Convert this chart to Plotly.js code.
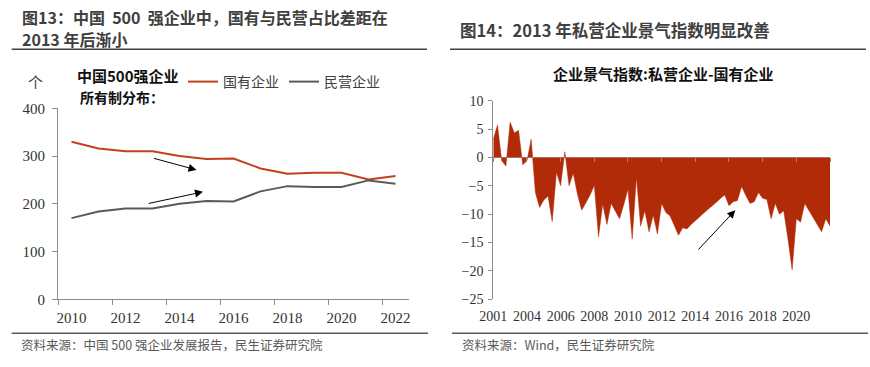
<!DOCTYPE html>
<html>
<head>
<meta charset="utf-8">
<script src="https://cdn.plot.ly/plotly-3.0.1.min.js"></script>
<style>
  html, body { margin: 0; padding: 0; background: #ffffff; }
  #chart { width: 870px; height: 367px; }
</style>
</head>
<body>
<div id="chart"></div>
<script>
// ---------- Data: left chart (China top-500 enterprises by ownership) ----------
const years = [2010, 2011, 2012, 2013, 2014, 2015, 2016, 2017, 2018, 2019, 2020, 2021, 2022];
const yearTickText = ['2010', '2012', '2014', '2016', '2018', '2020', '2022'];
const stateOwned = [330, 316, 310, 310, 300, 294, 295, 274, 263, 265, 265, 251, 258];
const privateOwned = [170, 184, 190, 190, 200, 206, 205, 226, 237, 235, 235, 249, 242];

// ---------- Data: right chart (business climate index: private minus state-owned) ----------
const bciDiff = [
  3.2, 5.7, -0.6, -1.5, 6.2, 4.3, 4.8, -1.3, -0.6, 3.2,
  -6.2, -8.8, -7.5, -6.8, -11.3, -2.6, -5.0, 1.0, -5.0, -2.8,
  -6.5, -9.3, -8.0, -6.6, -4.9, -14.0, -8.2, -11.8, -8.1, -9.4,
  -10.8, -8.3, -5.6, -14.4, -3.5, -12.1, -9.4, -13.1, -10.2, -13.5,
  -8.1, -9.7, -10.3, -12.0, -13.7, -12.4, -12.6, -11.8, -11.2, -10.5,
  -9.8, -9.2, -8.5, -7.9, -7.2, -6.6, -8.5, -7.8, -7.6, -5.1,
  -6.7, -8.1, -7.8, -6.2, -7.2, -7.4, -10.8, -8.1, -10.0, -9.4,
  -14.3, -19.8, -10.8, -11.4, -8.1, -9.4, -10.7, -11.9, -13.1, -10.8,
  -12.1
];
const bciTickText = ['2001', '2004', '2006', '2008', '2010', '2012', '2014', '2016', '2018', '2020', ''];
const bciLabelEvery = 8;

// ---------- helpers ----------
const W = 870, H = 367;
const px = v => v / W;
const py = v => 1 - v / H;

const CJK = '"Noto Sans CJK SC", "Noto Sans", sans-serif';
const SERIF = '"Liberation Serif", "Times New Roman", serif';

const bciIdx = bciDiff.map((_, i) => i);
const bciTickVals = bciTickText.map((_, i) => i * bciLabelEvery);
const yearTickVals = yearTickText.map(Number);

const traces = [
  {
    x: years, y: stateOwned, name: '国有企业', type: 'scatter', mode: 'lines',
    line: { color: '#C4401D', width: 2 }, xaxis: 'x', yaxis: 'y'
  },
  {
    x: years, y: privateOwned, name: '民营企业', type: 'scatter', mode: 'lines',
    line: { color: '#5A5A5A', width: 2 }, xaxis: 'x', yaxis: 'y'
  },
  {
    x: bciIdx, y: bciDiff, name: '企业景气指数差', type: 'scatter', mode: 'lines',
    fill: 'tozeroy', fillcolor: '#B22B08', line: { color: '#B22B08', width: 0.5 },
    xaxis: 'x2', yaxis: 'y2', showlegend: false
  }
];

const axisGray = '#8c8c8c';
const layout = {
  width: W, height: H,
  margin: { l: 0, r: 0, t: 0, b: 0 },
  paper_bgcolor: '#ffffff', plot_bgcolor: 'rgba(0,0,0,0)',
  showlegend: true,
  legend: {
    orientation: 'h', x: px(183), xanchor: 'left', y: py(82), yanchor: 'middle',
    font: { family: CJK, size: 14, color: '#404040' }, bgcolor: 'rgba(0,0,0,0)',
    itemwidth: 30, tracegroupgap: 0
  },
  xaxis: {
    domain: [px(58), px(409)], range: [2009.5, 2022.5], anchor: 'y',
    tickmode: 'array', tickvals: yearTickVals, ticktext: yearTickText,
    ticks: '', ticklabelstandoff: 5, showgrid: false, zeroline: false,
    showline: true, linecolor: axisGray, linewidth: 1,
    minor: { ticks: 'outside', tick0: 2009.5, dtick: 2, ticklen: 5, tickcolor: axisGray, tickwidth: 1, showgrid: false },
    tickfont: { family: SERIF, size: 15, color: '#333333' }, fixedrange: true
  },
  yaxis: {
    domain: [py(299.3), py(108.3)], range: [0, 400], anchor: 'x',
    tickmode: 'array', tickvals: [0, 100, 200, 300, 400],
    ticks: 'outside', ticklen: 5, tickcolor: axisGray, ticklabelstandoff: 4,
    showline: true, linecolor: axisGray, linewidth: 1,
    showgrid: false, zeroline: false,
    tickfont: { family: SERIF, size: 15, color: '#333333' }, fixedrange: true
  },
  xaxis2: {
    domain: [px(493.3), px(830)], range: [0, bciDiff.length - 1], anchor: 'free', position: py(156.7),
    tickmode: 'array', tickvals: bciTickVals, ticktext: bciTickText,
    ticks: 'outside', ticklen: 4, tickcolor: '#b08070', ticklabelstandoff: 142,
    showline: true, linecolor: '#a87060', linewidth: 1,
    showgrid: false, zeroline: false,
    tickfont: { family: SERIF, size: 14, color: '#333333' }, fixedrange: true
  },
  yaxis2: {
    domain: [py(299.3), py(100.7)], range: [-25, 10], anchor: 'x2',
    tickmode: 'array', tickvals: [-25, -20, -15, -10, -5, 0, 5, 10],
    ticks: 'outside', ticklen: 4, tickcolor: axisGray, ticklabelstandoff: 2,
    showline: true, linecolor: axisGray, linewidth: 1,
    showgrid: false, zeroline: false,
    tickfont: { family: SERIF, size: 14, color: '#333333' }, fixedrange: true
  },
  shapes: [
    { type: 'line', xref: 'paper', yref: 'paper', x0: px(11.7), x1: px(427), y0: py(49.3), y1: py(49.3), line: { color: '#404040', width: 1.5 } },
    { type: 'line', xref: 'paper', yref: 'paper', x0: px(450), x1: px(866), y0: py(49.3), y1: py(49.3), line: { color: '#404040', width: 1.5 } },
    { type: 'line', xref: 'paper', yref: 'paper', x0: px(11.7), x1: px(428), y0: py(333.3), y1: py(333.3), line: { color: '#595959', width: 1.5 } },
    { type: 'line', xref: 'paper', yref: 'paper', x0: px(452), x1: px(868), y0: py(333.3), y1: py(333.3), line: { color: '#595959', width: 1.5 } }
  ],
  annotations: [
    { xref: 'paper', yref: 'paper', x: px(20), y: py(17.5), xanchor: 'left', yanchor: 'middle', showarrow: false,
      text: '<b>图13：中国  500  强企业中，国有与民营占比差距在</b>', font: { family: CJK, size: 16, color: '#404040' } },
    { xref: 'paper', yref: 'paper', x: px(20), y: py(39.5), xanchor: 'left', yanchor: 'middle', showarrow: false,
      text: '<b>2013 年后渐小</b>', font: { family: CJK, size: 16, color: '#404040' } },
    { xref: 'paper', yref: 'paper', x: px(458), y: py(30), xanchor: 'left', yanchor: 'middle', showarrow: false,
      text: '<b>图14：2013 年私营企业景气指数明显改善</b>', font: { family: CJK, size: 16.5, color: '#404040' } },
    { xref: 'paper', yref: 'paper', x: px(662.5), y: py(73.3), xanchor: 'center', yanchor: 'middle', showarrow: false,
      text: '<b>企业景气指数:私营企业-国有企业</b>', font: { family: CJK, size: 15, color: '#111111' } },
    { xref: 'paper', yref: 'paper', x: px(35), y: py(81), xanchor: 'center', yanchor: 'middle', showarrow: false,
      text: '个', font: { family: CJK, size: 15, color: '#404040' } },
    { xref: 'paper', yref: 'paper', x: px(75), y: py(75), xanchor: 'left', yanchor: 'middle', showarrow: false,
      text: '<b>中国500强企业</b>', font: { family: CJK, size: 15, color: '#111111' } },
    { xref: 'paper', yref: 'paper', x: px(78), y: py(97), xanchor: 'left', yanchor: 'middle', showarrow: false,
      text: '<b>所有制分布：</b>', font: { family: CJK, size: 14, color: '#111111' } },
    { xref: 'paper', yref: 'paper', x: px(19), y: py(344.5), xanchor: 'left', yanchor: 'middle', showarrow: false,
      text: '资料来源：中国 500 强企业发展报告，民生证券研究院', font: { family: CJK, size: 12.5, color: '#595959' } },
    { xref: 'paper', yref: 'paper', x: px(460), y: py(344.5), xanchor: 'left', yanchor: 'middle', showarrow: false,
      text: '资料来源：Wind，民生证券研究院', font: { family: CJK, size: 12.5, color: '#595959' } },
    // arrows (left chart)
    { xref: 'x', yref: 'y', axref: 'x', ayref: 'y', x: 2014.63, y: 271, ax: 2013.0, ay: 296, text: '',
      showarrow: true, arrowhead: 2, arrowsize: 1.6, arrowwidth: 1, arrowcolor: '#000000' },
    { xref: 'x', yref: 'y', axref: 'x', ayref: 'y', x: 2014.87, y: 225, ax: 2012.8, ay: 200, text: '',
      showarrow: true, arrowhead: 2, arrowsize: 1.6, arrowwidth: 1, arrowcolor: '#000000' },
    // arrow (right chart)
    { xref: 'x2', yref: 'y2', axref: 'x2', ayref: 'y2', x: 57.5, y: -9.3, ax: 48.4, ay: -16.5, text: '',
      showarrow: true, arrowhead: 2, arrowsize: 1.6, arrowwidth: 1, arrowcolor: '#000000' }
  ]
};

Plotly.newPlot('chart', traces, layout, { staticPlot: true, displayModeBar: false });
</script>
</body>
</html>
